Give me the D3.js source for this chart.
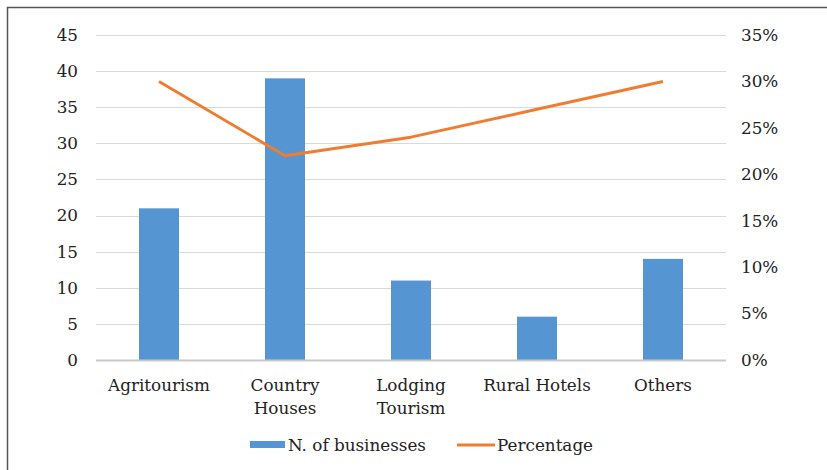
<!DOCTYPE html>
<html><head><meta charset="utf-8">
<script src="https://cdn.jsdelivr.net/npm/d3@7"></script>
<style>body{margin:0;background:#fff}svg{display:block}</style>
</head><body>
<svg id="c" width="827" height="470"></svg>
<script>
const categories = [["Agritourism"],["Country","Houses"],["Lodging","Tourism"],["Rural Hotels"],["Others"]];
const businesses = [21, 39, 11, 6, 14];
const percentage = [30, 22, 24, 27, 30];
const leftTicks = [0,5,10,15,20,25,30,35,40,45];
const rightTicks = [0,5,10,15,20,25,30,35];

const svg = d3.select("#c");
const font = "'DejaVu Serif', serif";
const fs = 16.8;
const tc = "#222";
const W=827,H=470;
const m={l:96,r:726,t:35,b:360};
svg.append("rect").attr("width",W).attr("height",H).attr("fill","#fff");
svg.append("path").attr("d",`M7.5,${H} V7.5 H${W}`).attr("fill","none").attr("stroke","#555").attr("stroke-width",1.5);

const xc = d3.scaleBand().domain(d3.range(categories.length)).range([m.l,m.r]);
const y = d3.scaleLinear().domain([0,45]).range([m.b,m.t]);
const y2 = d3.scaleLinear().domain([0,35]).range([m.b,m.t]);

// gridlines
svg.append("g").selectAll("line").data(leftTicks.slice(1)).join("line")
  .attr("x1",m.l).attr("x2",m.r).attr("y1",d=>Math.round(y(d))+0.5).attr("y2",d=>Math.round(y(d))+0.5)
  .attr("stroke","#d9d9d9").attr("stroke-width",1.2);

// bars
svg.append("g").selectAll("rect").data(businesses).join("rect")
  .attr("x",(d,i)=>xc(i)+xc.bandwidth()/2-20).attr("width",40)
  .attr("y",d=>y(d)).attr("height",d=>y(0)-y(d)).attr("fill","#5596d2");

// baseline
svg.append("line").attr("x1",m.l).attr("x2",m.r).attr("y1",y(0)+0.5).attr("y2",y(0)+0.5).attr("stroke","#c8c8c8").attr("stroke-width",2);

// line
const line = d3.line().x((d,i)=>xc(i)+xc.bandwidth()/2).y(d=>y2(d));
svg.append("path").datum(percentage).attr("d",line).attr("fill","none").attr("stroke","#ef7d31").attr("stroke-width",3).attr("stroke-linejoin","round");

// left axis labels
svg.append("g").selectAll("text").data(leftTicks).join("text")
  .attr("x",78).attr("y",d=>y(d)).attr("dy","0.35em").attr("text-anchor","end")
  .attr("font-family",font).attr("font-size",fs).attr("fill",tc).text(d=>d);
// right axis labels
svg.append("g").selectAll("text").data(rightTicks).join("text")
  .attr("x",741).attr("y",d=>y2(d)).attr("dy","0.35em").attr("text-anchor","start")
  .attr("font-family",font).attr("font-size",fs).attr("fill",tc).text(d=>d+"%");

// category labels
const cl = svg.append("g").selectAll("text").data(categories).join("text")
  .attr("x",(d,i)=>xc(i)+xc.bandwidth()/2).attr("y",391).attr("text-anchor","middle")
  .attr("font-family",font).attr("font-size",fs).attr("fill",tc);
cl.selectAll("tspan").data(d=>d).join("tspan").attr("x",function(){return this.parentNode.getAttribute("x");})
  .attr("dy",(d,i)=>i?23:0).text(d=>d);

// legend
const lg = svg.append("g");
lg.append("rect").attr("x",250).attr("y",441).attr("width",35).attr("height",7).attr("fill","#5596d2");
lg.append("text").attr("x",288).attr("y",451).attr("font-family",font).attr("font-size",fs).attr("fill",tc).text("N. of businesses");
lg.append("line").attr("x1",457).attr("x2",495).attr("y1",445).attr("y2",445).attr("stroke","#ef7d31").attr("stroke-width",3);
lg.append("text").attr("x",497).attr("y",451).attr("font-family",font).attr("font-size",fs).attr("fill",tc).text("Percentage");
</script>
</body></html>
